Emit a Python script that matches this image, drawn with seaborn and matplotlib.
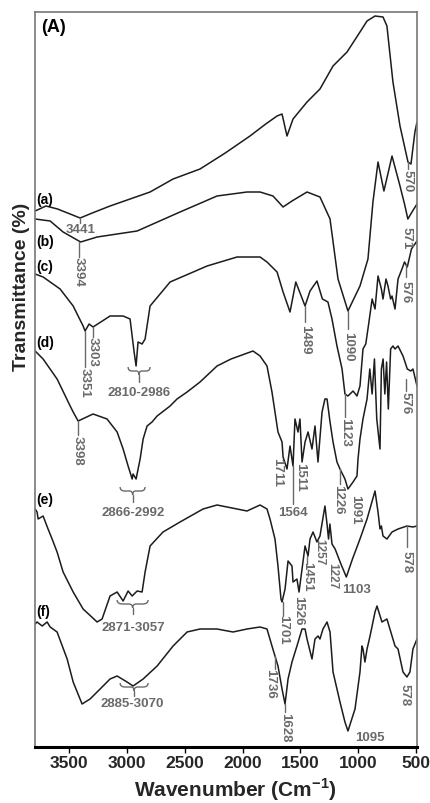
import numpy as np
import pandas as pd
import matplotlib
matplotlib.use("Agg")
import matplotlib.pyplot as plt
from matplotlib.path import Path
from matplotlib.patches import PathPatch
import seaborn as sns

# ---------------- data (wavenumber cm-1, transmittance, arbitrary offset units) -------------
wn_a = [3794, 3700, 3600, 3405, 3300, 3146, 2800, 2601, 2368, 2150, 1936, 1800, 1702, 1659,
        1616, 1564, 1443, 1331, 1218, 1097, 985, 924, 855, 786, 752, 700, 639, 570, 544, 510, 492]
t_a = [536, 541, 538, 529, 534, 541, 555, 568, 578, 594, 611, 623, 631, 633,
       611, 628, 645, 658, 681, 695, 715, 726, 731, 730, 721, 665, 621, 585, 583, 615, 625]

wn_b = [3794, 3664, 3552, 3400, 3258, 2912, 2541, 2221, 1962, 1849, 1737, 1650, 1573, 1443,
        1331, 1244, 1175, 1089, 985, 916, 873, 829, 778, 708, 639, 600, 571, 530, 492]
t_b = [528, 526, 515, 505, 510, 516, 535, 551, 555, 555, 551, 540, 546, 555,
       550, 528, 468, 436, 461, 488, 545, 585, 556, 591, 561, 543, 528, 536, 543]

wn_c = [3794, 3725, 3578, 3465, 3379, 3362, 3327, 3293, 3146, 3033, 2973, 2938, 2921, 2904,
        2869, 2843, 2800, 2627, 2307, 2048, 1849, 1789, 1702, 1650, 1590, 1540, 1460, 1417,
        1357, 1310, 1262, 1227, 1184, 1140, 1115, 1089, 1045, 1011, 985, 959, 935, 910, 880,
        855, 829, 800, 786, 760, 743, 720, 708, 682, 656, 622, 600, 576, 540, 492]
t_c = [473, 470, 458, 441, 421, 416, 423, 420, 431, 431, 428, 395, 381, 405,
       403, 408, 441, 465, 481, 490, 490, 485, 475, 455, 435, 465, 441, 456,
       466, 448, 445, 428, 401, 378, 353, 351, 356, 351, 361, 398, 403, 423, 448,
       438, 471, 458, 448, 468, 461, 448, 451, 438, 468, 478, 485, 480, 498, 506]

wn_d = [3794, 3725, 3604, 3491, 3465, 3422, 3293, 3172, 3085, 3033, 2990, 2955, 2947, 2921,
        2886, 2860, 2826, 2783, 2739, 2627, 2567, 2480, 2368, 2221, 2100, 1910, 1849, 1789,
        1746, 1720, 1694, 1659, 1650, 1616, 1590, 1564, 1547, 1521, 1504, 1486, 1460, 1434,
        1400, 1374, 1348, 1313, 1288, 1270, 1244, 1218, 1184, 1158, 1115, 1089, 1045, 1011,
        1002, 985, 959, 924, 900, 880, 860, 840, 812, 800, 785, 770, 755, 740, 720, 700,
        682, 656, 613, 590, 576, 545, 527, 492]
t_d = [396, 388, 368, 341, 335, 326, 333, 328, 315, 298, 281, 268, 273, 268,
       288, 308, 321, 325, 331, 341, 348, 355, 365, 381, 388, 396, 391, 381,
       355, 335, 315, 305, 290, 278, 301, 281, 328, 315, 328, 285, 305, 315,
       298, 321, 285, 335, 348, 348, 325, 305, 285, 278, 268, 258, 265, 271,
       288, 308, 328, 348, 378, 353, 388, 328, 298, 378, 388, 353, 385, 338, 398, 401,
       398, 401, 391, 383, 378, 376, 378, 361]

wn_e = [3794, 3777, 3768, 3725, 3682, 3647, 3604, 3552, 3465, 3379, 3258, 3215, 3146, 3085,
        3033, 2990, 2955, 2912, 2869, 2843, 2800, 2688, 2541, 2342, 2221, 2048, 1962, 1849,
        1789, 1763, 1720, 1694, 1668, 1659, 1633, 1607, 1573, 1564, 1530, 1512, 1486, 1460,
        1434, 1417, 1391, 1357, 1331, 1288, 1270, 1257, 1245, 1227, 1200, 1150, 1103, 1050,
        985, 924, 855, 829, 812, 800, 786, 752, 708, 656, 579, 527, 492]
t_e = [238, 235, 228, 231, 218, 208, 195, 175, 155, 138, 125, 128, 151, 155,
       146, 156, 151, 156, 155, 175, 201, 215, 225, 238, 242, 238, 236, 242,
       238, 228, 208, 181, 148, 145, 158, 186, 181, 165, 168, 155, 178, 201,
       191, 208, 215, 205, 211, 241, 223, 208, 223, 203, 198, 183, 170, 188,
       208, 228, 256, 235, 218, 221, 211, 208, 215, 218, 221, 220, 221]

wn_f = [3794, 3777, 3733, 3690, 3664, 3604, 3517, 3465, 3388, 3319, 3232, 3146, 3085, 2999,
        2947, 2860, 2739, 2601, 2480, 2368, 2221, 2083, 1962, 1849, 1789, 1746, 1720, 1694,
        1659, 1633, 1607, 1573, 1530, 1486, 1460, 1443, 1400, 1374, 1348, 1331, 1305, 1270,
        1244, 1218, 1158, 1115, 1089, 1028, 985, 968, 959, 942, 924, 898, 855, 838, 795,
        752, 708, 682, 656, 613, 579, 553, 527, 492]
t_f = [123, 125, 121, 125, 120, 115, 88, 65, 43, 48, 58, 68, 71, 65,
       61, 68, 81, 101, 115, 118, 118, 115, 118, 120, 118, 101, 91, 81,
       58, 43, 68, 85, 101, 118, 118, 108, 88, 108, 111, 108, 118, 125,
       115, 75, 45, 25, 16, 38, 75, 101, 98, 85, 98, 111, 135, 141, 125,
       128, 111, 101, 98, 75, 70, 75, 98, 108]

samples = ["a", "b", "c", "d", "e", "f"]
xticks = [3500, 3000, 2500, 2000, 1500, 1000, 500]

# ---------------- style ----------------
sns.set_style("white")
plt.rcParams['font.family'] = ['Liberation Sans', 'DejaVu Sans']
plt.rcParams['mathtext.fontset'] = 'custom'
plt.rcParams['mathtext.rm'] = 'Liberation Sans'
plt.rcParams['mathtext.bf'] = 'Liberation Sans:bold'

frames = []
for name, w, t in zip(samples, [wn_a, wn_b, wn_c, wn_d, wn_e, wn_f],
                      [t_a, t_b, t_c, t_d, t_e, t_f]):
    frames.append(pd.DataFrame({"wavenumber": w, "T": t, "sample": name}))
df = pd.concat(frames, ignore_index=True)

fig = plt.figure(figsize=(4.3, 8.04), dpi=100)
ax = fig.add_axes([35 / 430, 56 / 804, 382 / 430, 735 / 804])

sns.lineplot(data=df, x="wavenumber", y="T", hue="sample", palette=["#1c1c1c"] * 6,
             estimator=None, sort=False, legend=False, lw=1.1, ax=ax)

ax.set_xlim(3795, 492)
ax.set_ylim(0, 735)
ax.set_yticks([])
ax.set_xticks(xticks)
ax.set_xticklabels([str(v) for v in xticks], fontsize=12.5, fontweight="bold")
ax.tick_params(axis="x", direction="out", length=4, width=1, color="black", pad=2, bottom=True)

for side in ["left", "top", "right"]:
    ax.spines[side].set_color("#777777")
    ax.spines[side].set_linewidth(1.2)
ax.spines["bottom"].set_color("black")
ax.spines["bottom"].set_linewidth(2.2)

ax.set_xlabel(r"Wavenumber (Cm$^{\mathbf{-1}}$)", fontsize=15, fontweight="bold",
              va="center", ha="center")
ax.xaxis.set_label_coords(0.524, -0.057)
ax.set_ylabel("Transmittance (%)", fontsize=14, fontweight="bold", va="center", ha="center")
ax.yaxis.set_label_coords(-0.035, 0.627)

# ---------------- annotations ----------------
grey = "#6a6a6a"
curve_labels = [("(A)", 3740, 721, 13), ("(a)", 3780, 548, 10), ("(b)", 3780, 506, 10),
                ("(c)", 3780, 481, 10), ("(d)", 3780, 405, 10), ("(e)", 3780, 248, 10),
                ("(f)", 3780, 136, 10)]
for txt, x, y, fs in curve_labels:
    ax.text(x, y, txt, fontsize=fs, fontweight="bold", color="black", ha="left", va="center")

peak_labels = [
    ("3441", 3405, 518, 0, 9.5), ("3394", 3414, 476, -90, 9.5), ("3351", 3362, 365, -90, 9.5),
    ("3303", 3293, 396, -90, 9.5), ("2810-2986", 2895, 355, 0, 9.5), ("1489", 1460, 408, -90, 9.5),
    ("1090", 1089, 401, -90, 9.5), ("570", 570, 567, -90, 9.5), ("571", 579, 510, -90, 9.5),
    ("576", 587, 456, -90, 9.5), ("3398", 3422, 297, -90, 9.5), ("2866-2992", 2947, 235, 0, 9.5),
    ("1711", 1702, 276, -90, 9.5), ("1511", 1504, 271, -90, 9.5), ("1564", 1564, 235, 0, 9.5),
    ("1226", 1175, 248, -90, 9.5), ("1091", 1028, 238, -90, 9.5), ("1123", 1115, 316, -90, 9.5),
    ("576", 587, 345, -90, 9.5), ("1451", 1443, 171, -90, 9.5), ("1257", 1335, 196, -90, 8.5),
    ("1227", 1225, 172, -90, 8.5), ("1103", 1011, 158, 0, 9.5), ("578", 579, 186, -90, 9.5),
    ("2871-3057", 2947, 120, 0, 9.5), ("1701", 1650, 118, -90, 9.5), ("1526", 1521, 137, -90, 9.5),
    ("1736", 1763, 64, -90, 9.5), ("1628", 1633, 20, -90, 9.5), ("1095", 898, 10, 0, 9.5),
    ("578", 596, 53, -90, 9.5), ("2885-3070", 2956, 44, 0, 9.5)]
for txt, x, y, rot, fs in peak_labels:
    ax.text(x, y, txt, fontsize=fs, fontweight="bold", color=grey, rotation=rot,
            ha="center", va="center")

tick_lines = [(3405, 529, 524), (3414, 505, 490), (3362, 416, 380), (3293, 420, 410),
              (2895, 372, 365), (1460, 441, 425), (1089, 436, 418), (570, 585, 578),
              (587, 483, 470), (3422, 326, 312), (2951, 252, 245), (1564, 281, 243),
              (1158, 278, 263), (1115, 353, 330), (587, 368, 356), (1443, 191, 183),
              (579, 221, 200), (2951, 139, 133), (1650, 145, 131), (1720, 91, 78),
              (1633, 43, 35), (2938, 56, 51)]
for x, y1, y2 in tick_lines:
    ax.plot([x, x], [y1, y2], color=grey, lw=1.0)


def brace(ax, x0, x1, y, h):
    w = x1 - x0
    xc = (x0 + x1) / 2
    verts = [(x0, y + h), (x0, y), (x0 + 0.18 * w, y), (xc - 0.12 * w, y),
             (xc, y), (xc, y - h), (xc, y), (xc + 0.12 * w, y),
             (x1 - 0.18 * w, y), (x1, y), (x1, y + h)]
    codes = [Path.MOVETO, Path.CURVE3, Path.CURVE3, Path.LINETO,
             Path.CURVE3, Path.CURVE3, Path.CURVE3, Path.CURVE3,
             Path.LINETO, Path.CURVE3, Path.CURVE3]
    ax.add_patch(PathPatch(Path(verts, codes), fill=False, edgecolor=grey, lw=1.0))


braces = [(2990, 2800, 376), (3059, 2843, 256), (3085, 2817, 143), (3059, 2817, 60)]
for x0, x1, y in braces:
    brace(ax, x0, x1, y, 4)

fig.savefig("out.png", dpi=100)
